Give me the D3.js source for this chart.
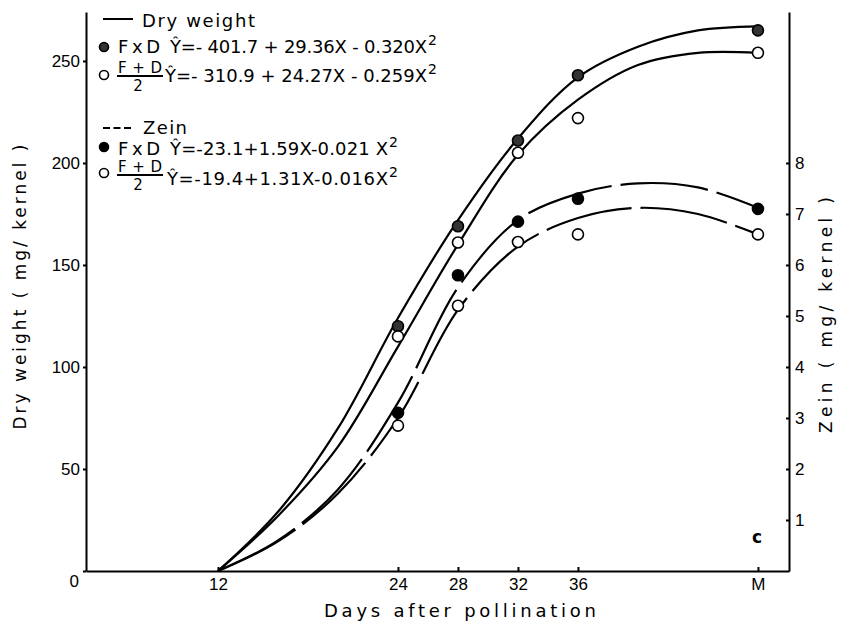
<!DOCTYPE html>
<html>
<head>
<meta charset="utf-8">
<script src="https://cdn.jsdelivr.net/npm/d3@7"></script>
<style>
  body { margin: 0; background: #fff; }
  svg { font-family: "DejaVu Sans", sans-serif; }
  .axis path, .axis line { stroke: #000; stroke-width: 2; }
  .axis text { font-size: 17px; fill: #000; }
</style>
</head>
<body>
<svg id="chart" width="841" height="633"></svg>
<script>
// ==================================
// Data
// ==================================
// observed points (48 = M, maturity)
const pointDays = [24, 28, 32, 36, 48];
const dryFxD = [120, 169, 211, 243, 265];
const dryF2 = [115, 161, 205, 222, 254];
const zeinFxD = [3.1, 5.8, 6.85, 7.3, 7.1];
const zeinF2 = [2.85, 5.2, 6.45, 6.6, 6.6];

// fitted curves as drawn
const curveDays = [12, 16, 20, 24, 28, 32, 36, 40, 44, 48];
const dryFxDFit = [0, 29, 70, 124, 172, 212, 242, 257, 265, 267];
const dryF2Fit = [0, 27, 61, 110, 160, 204, 231, 248, 254, 254];
const zeinFxDFit = [0, 0.6, 1.6, 3.3, 5.56, 6.88, 7.4, 7.6, 7.52, 7.12];
const zeinF2Fit = [0, 0.58, 1.52, 3.0, 5.12, 6.36, 6.92, 7.12, 7.0, 6.6];

// ticks
const xTicks = [12, 24, 28, 32, 36, 48];
const xTickLabels = ["12", "24", "28", "32", "36", "M"];
const dryTicks = [0, 50, 100, 150, 200, 250];
const zeinTicks = [1, 2, 3, 4, 5, 6, 7, 8];

// ==================================
// Scales
// ==================================
const svg = d3.select("#chart");

const x = d3.scaleLinear().domain([3.2, 50.07]).range([86, 789]);
const y = d3.scaleLinear().domain([0, 274]).range([571, 12]);
const z = d3.scaleLinear().domain([0, 10.96]).range([571, 12]);

// ==================================
// Axes
// ==================================
svg.append("g")
  .attr("class", "axis")
  .attr("transform", "translate(0,571)")
  .call(d3.axisBottom(x).tickValues(xTicks)
    .tickFormat((d, i) => xTickLabels[i])
    .tickSizeInner(-4).tickSizeOuter(0).tickPadding(7));

const gy = svg.append("g")
  .attr("class", "axis")
  .attr("transform", "translate(86,0)")
  .call(d3.axisLeft(y).tickValues(dryTicks)
    .tickSizeInner(3).tickSizeOuter(0).tickPadding(3));
// the 0 sits low in the corner
gy.selectAll(".tick text").filter(d => d === 0).attr("dy", "0.9em").attr("x", -7);

svg.append("g")
  .attr("class", "axis")
  .attr("transform", "translate(789,0)")
  .call(d3.axisRight(z).tickValues(zeinTicks)
    .tickSizeInner(-3).tickSizeOuter(0).tickPadding(6));

// axis titles
svg.append("text")
  .attr("transform", "translate(26,287) rotate(-90)")
  .attr("text-anchor", "middle")
  .attr("font-size", 17)
  .attr("textLength", 285)
  .text("Dry weight ( mg/ kernel )");

svg.append("text")
  .attr("transform", "translate(832,315) rotate(-90)")
  .attr("text-anchor", "middle")
  .attr("font-size", 17)
  .attr("textLength", 236)
  .text("Zein ( mg/ kernel )");

svg.append("text")
  .attr("x", 460).attr("y", 617)
  .attr("text-anchor", "middle")
  .attr("font-size", 18)
  .attr("textLength", 272)
  .text("Days after pollination");

svg.append("text")
  .attr("x", 757).attr("y", 543)
  .attr("text-anchor", "middle")
  .attr("font-size", 17).attr("font-weight", "bold")
  .text("c");

// ==================================
// Curves
// ==================================
const line = (vals, scale) => d3.line()
  .x((d, i) => x(curveDays[i]))
  .y(d => scale(d))
  .curve(d3.curveCatmullRom.alpha(0.5))(vals);

[dryFxDFit, dryF2Fit].forEach(vals => {
  svg.append("path").attr("d", line(vals, y))
    .attr("fill", "none").attr("stroke", "#000").attr("stroke-width", 2.2);
});

[zeinFxDFit, zeinF2Fit].forEach(vals => {
  svg.append("path").attr("d", line(vals, z))
    .attr("fill", "none").attr("stroke", "#000").attr("stroke-width", 2.2)
    .attr("stroke-dasharray", "88,9");
});

// ==================================
// Points
// ==================================
const dots = (vals, scale, fill) => {
  svg.append("g").selectAll("circle")
    .data(vals).enter().append("circle")
    .attr("cx", (d, i) => x(pointDays[i]))
    .attr("cy", d => scale(d))
    .attr("r", 5.5)
    .attr("fill", fill)
    .attr("stroke", "#000").attr("stroke-width", 1.6);
};
dots(dryFxD, y, "#333");
dots(dryF2, y, "#fff");
dots(zeinFxD, z, "#000");
dots(zeinF2, z, "#fff");

// ==================================
// Legend
// ==================================
const lg = svg.append("g").attr("font-size", 18);

lg.append("line").attr("x1", 103).attr("x2", 133).attr("y1", 19).attr("y2", 19)
  .attr("stroke", "#000").attr("stroke-width", 2);
lg.append("text").attr("x", 142).attr("y", 27).attr("textLength", 113).text("Dry weight");

lg.append("line").attr("x1", 103).attr("x2", 131).attr("y1", 128).attr("y2", 128)
  .attr("stroke", "#000").attr("stroke-width", 2).attr("stroke-dasharray", "7,3.5");
lg.append("text").attr("x", 143).attr("y", 134).attr("textLength", 44).text("Zein");

const rows = [
  {cy: 47, fill: "#333", base: 53, frac: false, eqX: 170, eqEnd: 427, eq: "Ŷ=- 401.7 + 29.36X - 0.320X"},
  {cy: 75, fill: "#fff", base: 82, frac: true, fracBase: 73, eqX: 165, eqEnd: 427, eq: "Ŷ=- 310.9 + 24.27X - 0.259X"},
  {cy: 147, fill: "#000", base: 155, frac: false, eqX: 170, eqEnd: 388, eq: "Ŷ=-23.1+1.59X-0.021 X"},
  {cy: 173, fill: "#fff", base: 185, frac: true, fracBase: 172, eqX: 167, eqEnd: 388, eq: "Ŷ=-19.4+1.31X-0.016X"}
];

rows.forEach(r => {
  lg.append("circle").attr("cx", 104).attr("cy", r.cy).attr("r", 4.5)
    .attr("fill", r.fill).attr("stroke", "#000").attr("stroke-width", 1.6);
  if (r.frac) {
    lg.append("text").attr("x", 118).attr("y", r.fracBase)
      .attr("font-size", 15).attr("textLength", 44).text("F+D");
    lg.append("line").attr("x1", 117).attr("x2", 163).attr("y1", r.fracBase + 3).attr("y2", r.fracBase + 3)
      .attr("stroke", "#000").attr("stroke-width", 1.8);
    lg.append("text").attr("x", 138).attr("y", r.fracBase + 18)
      .attr("font-size", 15).attr("text-anchor", "middle").text("2");
  } else {
    lg.append("text").attr("x", 118).attr("y", r.base).attr("textLength", 42).text("FxD");
  }
  lg.append("text").attr("x", r.eqX).attr("y", r.base)
    .attr("textLength", r.eqEnd - r.eqX).text(r.eq);
  lg.append("text").attr("x", r.eqEnd + 1).attr("y", r.base - 8)
    .attr("font-size", 14).text("2");
});
</script>
</body>
</html>
